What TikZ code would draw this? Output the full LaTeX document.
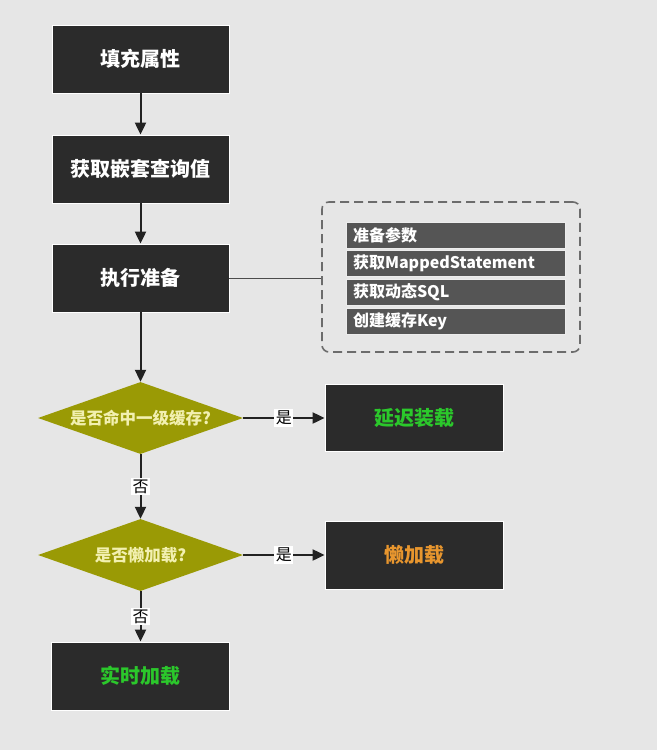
\documentclass[tikz,border=0pt]{standalone}
\usepackage{fontspec}
\setmainfont{Noto Sans CJK SC}
\usetikzlibrary{arrows.meta,shapes.geometric}
\definecolor{bg}{HTML}{E6E6E6}
\definecolor{boxfill}{HTML}{2B2B2B}
\definecolor{rowfill}{HTML}{555555}
\definecolor{olive}{HTML}{9A9A05}
\definecolor{diatext}{HTML}{F2F0B0}
\definecolor{gtext}{HTML}{2BC82B}
\definecolor{otext}{HTML}{E8962E}
\definecolor{linec}{HTML}{222222}
\tikzset{
  procbox/.style={draw=white,line width=0.8pt,fill=boxfill,minimum width=177pt,minimum height=68pt,inner sep=0pt,text=white,font=\fontsize{20}{23}\selectfont\bfseries},
  decide/.style={diamond,aspect=2.85,fill=olive,minimum width=205pt,minimum height=72pt,inner sep=0pt,text=diatext,font=\fontsize{16.5}{19}\selectfont\bfseries},
  rowbox/.style={draw=white!85!gray,line width=0.8pt,fill=rowfill,minimum width=219pt,minimum height=26pt,inner sep=0pt,text=white,font=\fontsize{16}{18}\selectfont\bfseries,text width=205pt,align=left},
  flow/.style={draw=linec,line width=2pt,-{Triangle[length=12pt,width=11pt]}},
  lbl/.style={fill=white,text=black,inner sep=1.5pt,font=\fontsize{16}{18}\selectfont},
}
\begin{document}
\begin{tikzpicture}[x=1pt,y=-1pt]
\fill[bg] (0,0) rectangle (657,750);
\useasboundingbox (0,0) rectangle (657,750);
\node[procbox] (fill) at (140.5,59) {填充属性};
\node[procbox] (nested) at (140.5,169) {获取嵌套查询值};
\node[procbox] (prep) at (140.5,278) {执行准备};
\node[decide] (d1) at (140.5,418) {是否命中一级缓存?};
\node[procbox,text=gtext,minimum width=178pt,minimum height=67pt] (delay) at (414,418) {延迟装载};
\node[decide] (d2) at (140.5,555) {是否懒加载?};
\node[procbox,text=otext,minimum width=178pt] (lazy) at (414,555) {懒加载};
\node[procbox,text=gtext,minimum width=178pt] (real) at (140.5,676) {实时加载};
% dashed group
\node[draw=gray!85!black,dashed,dash pattern=on 9pt off 5pt,line width=1.6pt,rounded corners=7pt,minimum width=258pt,minimum height=150pt] (grp) at (451,277) {};
\node[rowbox] (r1) at (455.5,235) {准备参数};
\node[rowbox] (r2) at (455.5,263) {获取MappedStatement};
\node[rowbox] (r3) at (455.5,292) {获取动态SQL};
\node[rowbox] (r4) at (455.5,321) {创建缓存Key};
% connectors
\draw[flow] (fill) -- (nested);
\draw[flow] (nested) -- (prep);
\draw[flow] (prep) -- (d1);
\draw[draw=gray!60!black,line width=1pt] (prep.east) -- (prep.east -| grp.west);
\draw[flow] (d1) -- node[lbl]{是} (delay);
\draw[flow] (d1) -- node[lbl]{否} (d2);
\draw[flow] (d2) -- node[lbl]{是} (lazy);
\draw[flow] (d2) -- node[lbl]{否} (real);
\end{tikzpicture}
\end{document}
